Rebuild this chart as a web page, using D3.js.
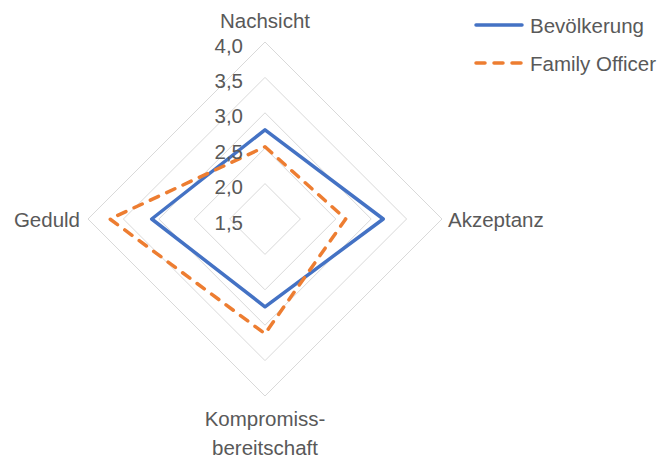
<!DOCTYPE html>
<html><head><meta charset="utf-8">
<script src="https://cdn.jsdelivr.net/npm/d3@7"></script>
<style>body{margin:0;background:#fff}svg{display:block}text{font-family:"Liberation Sans",Arial,sans-serif;fill:#595959}</style>
</head><body>
<script>
const categories = ["Nachsicht","Akzeptanz","Kompromiss-\nbereitschaft","Geduld"];
const seriesNames = ["Bevölkerung","Family Officer"];
const bevoelkerung = [2.76, 3.17, 2.74, 3.10];
const familyOfficer = [2.52, 2.64, 3.12, 3.69];
const tickValues = [1.5, 2.0, 2.5, 3.0, 3.5, 4.0];
const tickLabels = ["1,5","2,0","2,5","3,0","3,5","4,0"];

const W = 657, H = 457, cx = 265, cy = 219, R = 177;
const FS = 20.5;
const svg = d3.select("body").append("svg").attr("width", W).attr("height", H);
const r = d3.scaleLinear().domain([1.5, 4.0]).range([0, R]);
const ang = d3.scalePoint().domain(d3.range(categories.length)).range([0, 2*Math.PI*(categories.length-1)/categories.length]);
const pt = (i, v) => [cx + r(v)*Math.sin(ang(i)), cy - r(v)*Math.cos(ang(i))];
const g = svg.append("g");

// grid
tickValues.filter(t => t > 1.5).forEach(t => {
  g.append("path")
    .attr("d", d3.line()(categories.map((c,i) => pt(i,t))) + "Z")
    .attr("fill","none").attr("stroke","#d9d9d9").attr("stroke-width",1);
});

// series
const colors = ["#4472C4","#ED7D31"];
const data = [bevoelkerung, familyOfficer];
data.forEach((vals, k) => {
  g.append("path")
    .attr("d", d3.line()(vals.map((v,i) => pt(i,v))) + "Z")
    .attr("fill","none").attr("stroke",colors[k]).attr("stroke-width",3.5)
    .attr("stroke-linejoin","round")
    .attr("stroke-linecap", k ? "round" : "butt")
    .attr("stroke-dasharray", k ? "9,9" : null);
});

// tick labels
tickValues.forEach((t, i) => {
  g.append("text").attr("x", cx - 22).attr("y", cy - r(t) + 3)
    .attr("text-anchor","end").attr("dominant-baseline","central")
    .attr("font-size",FS).text(tickLabels[i]);
});

// category labels
const labelPos = [
  {x: cx, y: 20, anchor: "middle"},
  {x: 448, y: cy, anchor: "start"},
  {x: cx, y: 418, anchor: "middle"},
  {x: 80, y: cy, anchor: "end"}
];
categories.forEach((c, i) => {
  const lines = c.split("\n");
  const t = g.append("text").attr("font-size",FS).attr("text-anchor",labelPos[i].anchor);
  lines.forEach((ln, j) => {
    t.append("tspan").attr("x", labelPos[i].x).attr("y", labelPos[i].y + j*29)
      .attr("dominant-baseline","central").text(ln);
  });
});

// legend
const legY = [25, 63];
seriesNames.forEach((s, k) => {
  svg.append("line").attr("x1",476).attr("x2",522).attr("y1",legY[k]).attr("y2",legY[k])
    .attr("stroke",colors[k]).attr("stroke-width",3.5)
    .attr("stroke-linecap","round")
    .attr("stroke-dasharray", k ? "9,9" : null);
  svg.append("text").attr("x",530).attr("y",legY[k]).attr("dominant-baseline","central")
    .attr("font-size",FS).text(s);
});
</script>
</body></html>
